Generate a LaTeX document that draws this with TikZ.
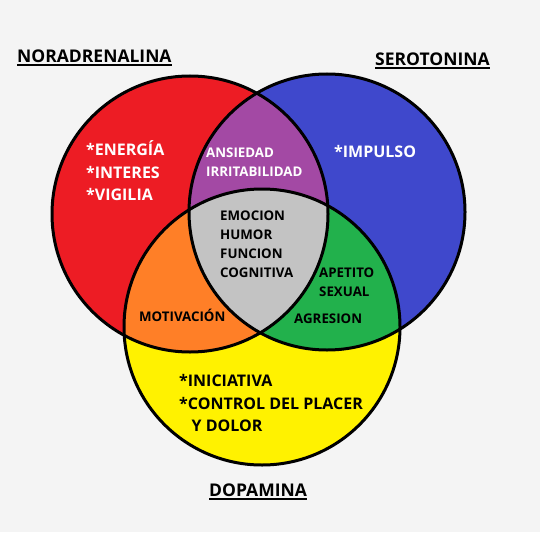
\documentclass[tikz,border=0pt]{standalone}
\usepackage{fontspec}
\setmainfont{Open Sans}
\usetikzlibrary{positioning}
\definecolor{pageGrey}{HTML}{F4F4F4}
\definecolor{noraRed}{HTML}{ED1C24}
\definecolor{seroBlue}{HTML}{3F48CC}
\definecolor{dopaYellow}{HTML}{FFF200}
\definecolor{mixPurple}{HTML}{A349A4}
\definecolor{mixOrange}{HTML}{FF7F27}
\definecolor{mixGreen}{HTML}{22B14C}
\definecolor{mixGrey}{HTML}{C3C3C3}
\tikzset{
  ring/.style={
    line width=3pt,
    draw=black
    },
  bigtext/.style={
    font=\bfseries\fontsize{16}{22.5}\selectfont,
    align=left,
    inner sep=0pt,
    anchor=base west
    },
  smalltext/.style={
    font=\bfseries\fontsize{13.3}{19}\selectfont,
    align=left,
    inner sep=0pt,
    anchor=base west
    },
  titletext/.style={
    font=\bfseries\fontsize{17.5}{20}\selectfont,
    inner sep=0pt,
    anchor=base west
    },
  underl/.style={line width=2pt},
}

\begin{document}
\begin{tikzpicture}[
            x = 1pt,
            y = -1pt
        ]
         \fill[pageGrey] (0,0) rectangle (540,532);
         \useasboundingbox (0,0) rectangle (540,532);

         % circle centres
         \coordinate (nora) at (190,214);
         \coordinate (sero) at (327,212);
         \coordinate (dopa) at (262,327);

         % base fills
         \fill[noraRed] (nora) circle (138);
         \fill[seroBlue] (sero) circle (138);
         \fill[dopaYellow] (dopa) circle (138);

         % pairwise overlaps
         \begin{scope}
           \clip (nora) circle (138);
           \fill[mixPurple] (sero) circle (138);
           \fill[mixOrange] (dopa) circle (138);
         \end{scope}
         \begin{scope}
           \clip (sero) circle (138);
           \fill[mixGreen] (dopa) circle (138);
         \end{scope}
         % centre
         \begin{scope}
           \clip (nora) circle (138);
           \clip (sero) circle (138);
           \fill[mixGrey] (dopa) circle (138);
         \end{scope}

         % outlines
         \draw[ring] (nora) circle (138);
         \draw[ring] (sero) circle (138);
         \draw[ring] (dopa) circle (138);

         % titles
         \node[titletext] (tnora) at (17,62.5) {NORADRENALINA};
         \node[titletext] (tsero) at (375,66) {SEROTONINA};
         \node[titletext] (tdopa) at (209,496.5) {DOPAMINA};
         \draw[underl] ([yshift=-2.5pt]tnora.base west) -- ([yshift=-2.5pt]tnora.base east);
         \draw[underl] ([yshift=-2.5pt]tsero.base west) -- ([yshift=-2.5pt]tsero.base east);
         \draw[underl] ([yshift=-2.5pt]tdopa.base west) -- ([yshift=-2.5pt]tdopa.base east);

         % region texts (base = last line)
         \node[bigtext, text=white] (noraonly) at (86,200.7) {*ENERGÍA\\*INTERES\\*VIGILIA};
         \node[bigtext, text=white] (seroonly) at (334,157) {*IMPULSO};
         \node[bigtext] (dopaonly) at (179,431.7) {*INICIATIVA\\*CONTROL DEL PLACER\\\hspace*{12.5pt}Y DOLOR};
         \node[smalltext, text=white] (noraSero) at (206,176) {ANSIEDAD\\IRRITABILIDAD};
         \node[smalltext] (allthree) at (220,277.7) {EMOCION\\HUMOR\\FUNCION\\COGNITIVA};
         \node[smalltext] (seroDopa) at (319,296.7) {APETITO\\SEXUAL};
         \node[smalltext] (agres) at (294,323) {AGRESION};
         \node[smalltext] (noraDopa) at (139,321.6) {MOTIVACIÓN};
  \end{tikzpicture}
\end{document}
